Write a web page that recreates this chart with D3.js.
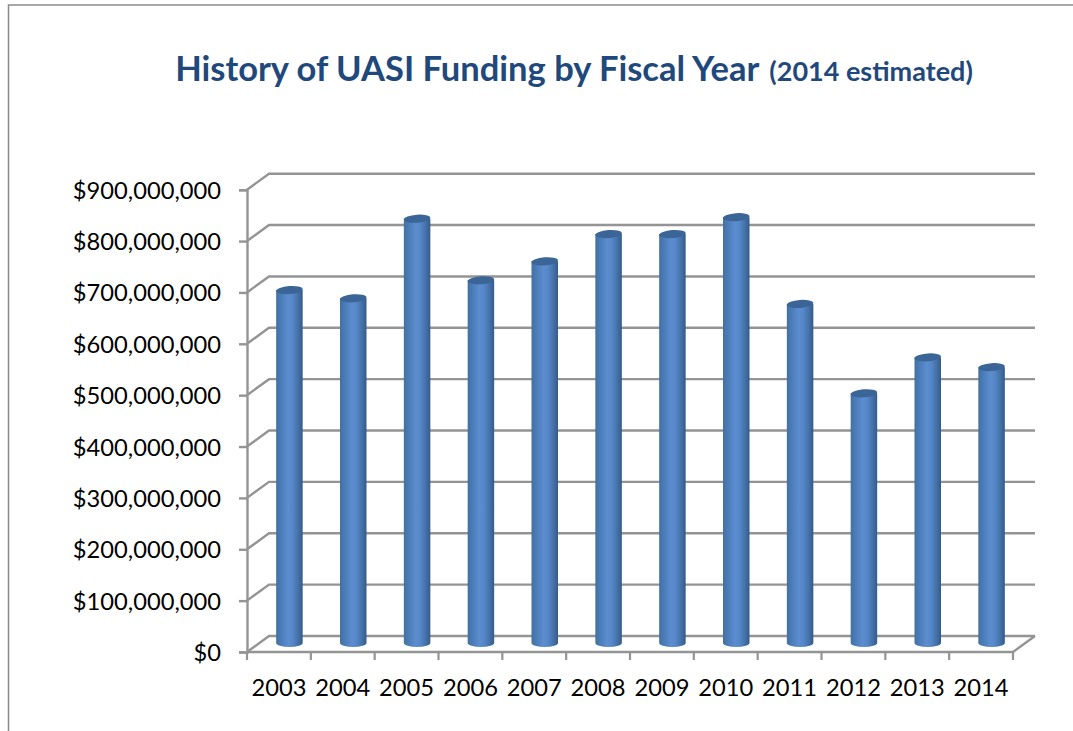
<!DOCTYPE html>
<html><head><meta charset="utf-8">
<script src="https://cdn.jsdelivr.net/npm/d3@7"></script>
<style>html,body{margin:0;padding:0;background:#fff}svg{display:block}text{font-family:Lato,"Open Sans",sans-serif}</style>
</head><body><svg id="c" width="1073" height="731"></svg>
<script>
const years = ["2003","2004","2005","2006","2007","2008","2009","2010","2011","2012","2013","2014"];
const funding = [689,673,828,708,745,798,798,831,662,488,558,539].map(d=>d*1e6);
const yTicks = [0,1,2,3,4,5,6,7,8,9].map(d=>d*1e8);
const titleMain = "History of UASI Funding by Fiscal Year";
const titleSub = "(2014 estimated)";

const svg = d3.select("#c");
const x = d3.scaleBand().domain(years).range([247,1013]);
const y = d3.scaleLinear().domain([0,9e8]).range([652,189.7]);
const dx = 22, dy = -16;        // full depth of the 3-D box
const midX = 10.5, midY = -8;   // bars stand halfway back
const axisCol = "#949494";
const fmt = v => "$" + d3.format(",")(v);

const defs = svg.append("defs");
const g = defs.append("linearGradient").attr("id","cyl");
[[0,"#41709f"],[0.12,"#4878b2"],[0.45,"#5b8dd0"],[0.62,"#5687c8"],[0.85,"#436fa6"],[1,"#355a85"]]
  .forEach(([o,c])=>g.append("stop").attr("offset",o).attr("stop-color",c));

// page frame
svg.append("path").attr("d","M8.5,731V5H1073").attr("fill","none").attr("stroke","#8a8a8a").attr("stroke-width",1.5);

// wall grid lines + side wall
const grid = svg.append("g").attr("fill","none").attr("stroke",axisCol).attr("stroke-width",2.4);
yTicks.forEach(t=>{
  grid.append("path").attr("d",`M${x.range()[0]},${y(t)}l${dx},${dy}H${x.range()[1]+dx}`);
});
// floor
grid.append("path").attr("d",`M${x.range()[1]},${y(0)}l${dx},${dy}`);
grid.append("path").attr("d",`M${x.range()[0]},${y(0)}H${x.range()[1]}`);

// axes
const axY = d3.axisLeft(y).tickValues(yTicks).tickFormat(fmt).tickSize(8).tickPadding(18);
const gy = svg.append("g").attr("transform",`translate(${x.range()[0]},0)`).call(axY);
const axX = d3.axisBottom(x).tickSize(0).tickPadding(27);
const gx = svg.append("g").attr("transform",`translate(0,${y(0)})`).call(axX);
[gy,gx].forEach(s=>{
  s.selectAll("path,line").attr("stroke",axisCol).attr("stroke-width",2.4);
  s.selectAll("text").attr("fill","#000").style("font-family","Lato").style("font-size","23.7px");
});
gy.selectAll("text").attr("dy","0.36em");
gx.select(".domain").remove();
const xEdges = years.map(d=>x(d)).concat(x.range()[1]);
svg.append("g").selectAll("line").data(xEdges).join("line")
  .attr("x1",d=>d).attr("x2",d=>d).attr("y1",y(0)).attr("y2",y(0)+8)
  .attr("stroke",axisCol).attr("stroke-width",2.2);

// cylinders
const bw = 26.5, ry = 4;
const bars = svg.append("g").selectAll("g").data(years.map((yr,i)=>({yr,v:funding[i]}))).join("g")
  .attr("transform",d=>`translate(${x(d.yr)+x.bandwidth()/2+midX},${midY})`);
bars.append("path").attr("fill","url(#cyl)")
  .attr("d",d=>`M${-bw/2},${y(d.v)}V${y(0)-1}A${bw/2},${ry} 0 0 0 ${bw/2},${y(0)-1}V${y(d.v)}Z`);
bars.append("ellipse").attr("cx",0).attr("cy",d=>y(d.v)).attr("rx",bw/2).attr("ry",ry)
  .attr("fill","#3a6596").attr("transform",d=>`rotate(-4 0 ${y(d.v)})`);

// title
const t = svg.append("text").attr("x",574).attr("y",80.5).attr("text-anchor","middle")
  .attr("fill","#1f497d").attr("font-weight",700);
t.append("tspan").attr("font-size","34.5px").text(titleMain);
t.append("tspan").attr("font-size","27px").attr("dx",10).text(titleSub);
</script></body></html>
